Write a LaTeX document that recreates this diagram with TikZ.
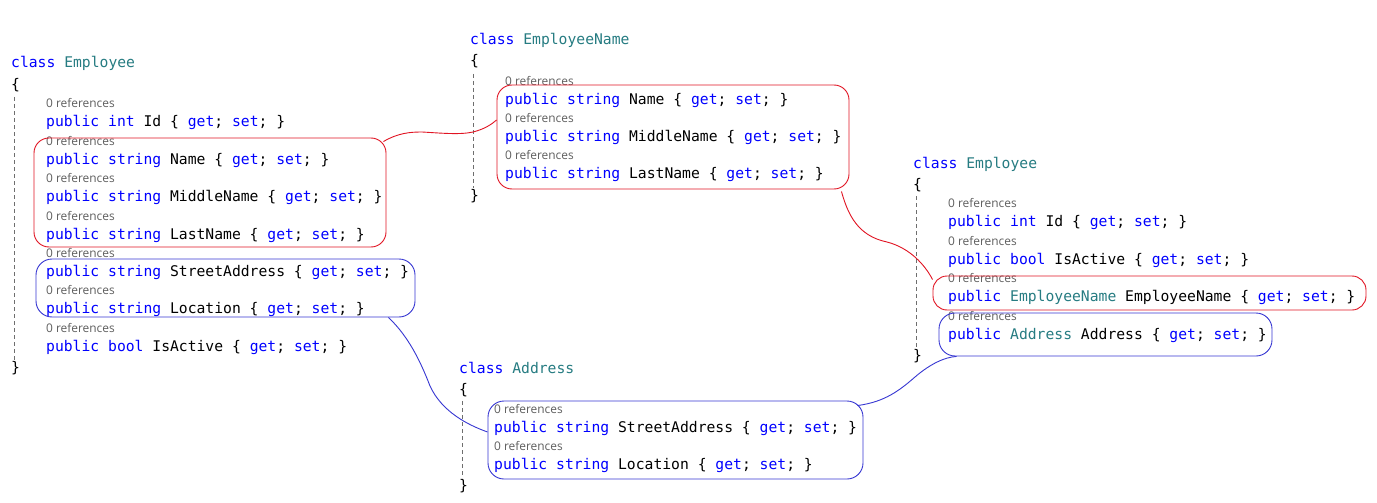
\documentclass[tikz,border=0pt]{standalone}
\usepackage{fontspec}
\setmonofont{DejaVu Sans Mono}
\newfontfamily\reffont{Open Sans}
\usetikzlibrary{calc}
\definecolor{kwblue}{RGB}{0,0,255}
\definecolor{typeteal}{RGB}{38,124,130}
\definecolor{refgray}{RGB}{95,95,95}
\definecolor{guidegray}{RGB}{110,110,110}
\definecolor{boxred}{RGB}{225,20,35}
\definecolor{boxblue}{RGB}{55,55,210}
\newcommand\kw[1]{\textcolor{kwblue}{#1}}
\newcommand\ty[1]{\textcolor{typeteal}{#1}}
\tikzset{
  code/.style={anchor=base west, inner sep=0pt, font=\ttfamily\fontsize{14.7}{16}\selectfont},
  refs/.style={anchor=base west, inner sep=0pt, font=\reffont\fontsize{11.9}{13}\selectfont, text=refgray},
  guide/.style={draw=guidegray, line width=1pt, dash pattern=on 4pt off 3pt},
  redbox/.style={draw=boxred, line width=0.9pt, rounded corners=15pt, inner sep=0pt},
  bluebox/.style={draw=boxblue, line width=0.9pt, rounded corners=16pt, inner sep=0pt},
  redline/.style={draw=boxred, line width=0.9pt},
  blueline/.style={draw=boxblue, line width=0.9pt},
}
\begin{document}
\begin{tikzpicture}[x=1pt,y=-1pt]
\useasboundingbox[fill=white] (0,0) rectangle (1377,503);

% ---------- left class Employee ----------
\node[code] (e1c) at (11,68) {\kw{class} \ty{Employee}};
\node[code] (e1o) at (11,89) {\{};
\draw[guide] (14,97) -- (14,360);
\node[refs] (e1r1) at (46,107) {0 references};
\node[code] (e1l1) at (46,126) {\kw{public} \kw{int} Id \{ \kw{get}; \kw{set}; \}};
\node[refs] (e1r2) at (46,145) {0 references};
\node[code] (e1l2) at (46,164) {\kw{public} \kw{string} Name \{ \kw{get}; \kw{set}; \}};
\node[refs] (e1r3) at (46,182) {0 references};
\node[code] (e1l3) at (46,201) {\kw{public} \kw{string} MiddleName \{ \kw{get}; \kw{set}; \}};
\node[refs] (e1r4) at (46,220) {0 references};
\node[code] (e1l4) at (46,239) {\kw{public} \kw{string} LastName \{ \kw{get}; \kw{set}; \}};
\node[refs] (e1r5) at (46,257) {0 references};
\node[code] (e1l5) at (46,276) {\kw{public} \kw{string} StreetAddress \{ \kw{get}; \kw{set}; \}};
\node[refs] (e1r6) at (46,294) {0 references};
\node[code] (e1l6) at (46,313) {\kw{public} \kw{string} Location \{ \kw{get}; \kw{set}; \}};
\node[refs] (e1r7) at (46,332) {0 references};
\node[code] (e1l7) at (46,351) {\kw{public} \kw{bool} IsActive \{ \kw{get}; \kw{set}; \}};
\node[code] (e1e) at (11,372) {\}};

% ---------- class EmployeeName ----------
\node[code] (nc) at (470,45) {\kw{class} \ty{EmployeeName}};
\node[code] (no) at (470,66) {\{};
\draw[guide] (473,74) -- (473,188);
\node[refs] (nr1) at (505,85) {0 references};
\node[code] (nl1) at (505,104) {\kw{public} \kw{string} Name \{ \kw{get}; \kw{set}; \}};
\node[refs] (nr2) at (505,122) {0 references};
\node[code] (nl2) at (505,141) {\kw{public} \kw{string} MiddleName \{ \kw{get}; \kw{set}; \}};
\node[refs] (nr3) at (505,159) {0 references};
\node[code] (nl3) at (505,178) {\kw{public} \kw{string} LastName \{ \kw{get}; \kw{set}; \}};
\node[code] (ne) at (470,200) {\}};

% ---------- right class Employee ----------
\node[code] (e2c) at (913,168) {\kw{class} \ty{Employee}};
\node[code] (e2o) at (913,189) {\{};
\draw[guide] (916,196) -- (916,347);
\node[refs] (e2r1) at (948,207) {0 references};
\node[code] (e2l1) at (948,226) {\kw{public} \kw{int} Id \{ \kw{get}; \kw{set}; \}};
\node[refs] (e2r2) at (948,245) {0 references};
\node[code] (e2l2) at (948,264) {\kw{public} \kw{bool} IsActive \{ \kw{get}; \kw{set}; \}};
\node[refs] (e2r3) at (948,282) {0 references};
\node[code] (e2l3) at (948,301) {\kw{public} \ty{EmployeeName} EmployeeName \{ \kw{get}; \kw{set}; \}};
\node[refs] (e2r4) at (948,320) {0 references};
\node[code] (e2l4) at (948,339) {\kw{public} \ty{Address} Address \{ \kw{get}; \kw{set}; \}};
\node[code] (e2e) at (913,360) {\}};

% ---------- class Address ----------
\node[code] (ac) at (459,373) {\kw{class} \ty{Address}};
\node[code] (ao) at (459,394) {\{};
\draw[guide] (462,401) -- (462,478);
\node[refs] (ar1) at (494,413) {0 references};
\node[code] (al1) at (494,432) {\kw{public} \kw{string} StreetAddress \{ \kw{get}; \kw{set}; \}};
\node[refs] (ar2) at (494,450) {0 references};
\node[code] (al2) at (494,469) {\kw{public} \kw{string} Location \{ \kw{get}; \kw{set}; \}};
\node[code] (ae) at (459,490) {\}};

% ---------- highlight boxes ----------
\node[redbox, minimum width=352pt, minimum height=109pt] (lred) at (210,192.5) {};
\node[bluebox, minimum width=379pt, minimum height=58pt] (lblue) at (225.5,288) {};
\node[redbox, minimum width=352pt, minimum height=104pt] (mred) at (673,137) {};
\node[redbox, rounded corners=14pt, minimum width=433pt, minimum height=34pt] (rred) at (1149.5,293) {};
\node[bluebox, minimum width=333pt, minimum height=43pt] (rblue) at (1105.5,334.5) {};
\node[bluebox, minimum width=375pt, minimum height=78pt] (bblue) at (675.5,440) {};

% ---------- connectors ----------
\draw[redline] ([xshift=-3pt,yshift=-4pt]lred.north east)
  .. controls (398,133) and (410,132) .. (422,132)
  .. controls (440,133) and (460,135) .. (473,132)
  .. controls (485,129) and (492,124) .. ([yshift=17pt]mred.west);
\draw[redline] ([xshift=-8pt,yshift=-2pt]mred.south east)
  .. controls (848,215) and (858,236) .. (887,242)
  .. controls (910,248) and (925,265) .. ([yshift=-4pt]rred.north west);
\draw[blueline] ([xshift=-27pt]lblue.south east)
  .. controls (408,336) and (420,360) .. (430,386)
  .. controls (442,412) and (468,425) .. ([yshift=8pt]bblue.west);
\draw[blueline] ([xshift=-6pt,yshift=-5pt]bblue.north east)
  .. controls (885,402) and (900,390) .. (915,377)
  .. controls (930,364) and (945,357) .. ([xshift=18pt]rblue.south west);
\end{tikzpicture}
\end{document}
